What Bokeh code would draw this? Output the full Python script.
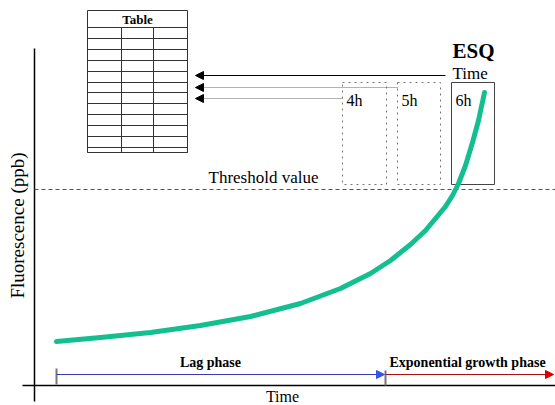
from bokeh.plotting import figure
from bokeh.models import Range1d, Arrow, NormalHead
from bokeh.core.properties import value
from bokeh.embed import file_html
from bokeh.resources import INLINE
import math

# ---- data (diagram units: x = time, y = fluorescence; origin at axes crossing)
curve_time = [22, 66, 116, 166, 216, 266, 306, 336, 356, 376, 391, 401, 411, 418, 424, 431, 438, 444, 450]
curve_fluor = [44, 48, 53, 60, 69, 82, 97, 112, 125, 141, 155, 167, 179, 190, 202, 220, 243, 265, 293]
threshold = 196

x_axis_extent = [-12, 521]
y_axis_extent = [-16, 337]

esq_labels = ["4h", "5h", "6h"]
box_left = [308, 363, 417]
box_right = [352, 406, 460]
box_top = 303
box_bottom = 201
box_dash = ["dotted", "dotted", "solid"]

arrow_y = [310, 298, 287]
arrow_from = [411, 363, 308]
arrow_to = 161

table_left, table_right = 53, 153
table_cols = [87, 119]
table_top = 375
table_lines = [358, 347, 336, 325, 314, 303, 293, 282, 271, 260, 249, 238, 233]

phase_start, phase_boundary, phase_end = 22, 351, 519
phase_y = 11

FONT = value("Liberation Serif")

p = figure(width=555, height=405, output_backend="svg", toolbar_location=None,
           x_range=Range1d(-34, 521), y_range=Range1d(-20, 385),
           min_border=0, x_axis_type=None, y_axis_type=None)
p.grid.visible = False
p.outline_line_color = None
p.background_fill_color = "white"

# axes lines
p.line(x_axis_extent, [0, 0], line_color="black", line_width=1.5)
p.line([0, 0], y_axis_extent, line_color="black", line_width=1.5)

# threshold
p.line([0, 521], [threshold, threshold], line_color="#555555", line_width=1, line_dash="4 3")
p.text([174], [threshold + 12], text=["Threshold value"], text_font=FONT,
       text_font_size="17px", text_align="left", text_baseline="middle", text_color="black")

# table
p.quad(left=[table_left], right=[table_right], top=[table_top], bottom=[table_lines[-1]],
       fill_color=None, line_color="#333333", line_width=1)
p.segment(x0=[table_left] * len(table_lines), x1=[table_right] * len(table_lines),
          y0=table_lines, y1=table_lines, line_color="#333333", line_width=1)
p.segment(x0=table_cols, x1=table_cols, y0=[table_lines[0]] * 2, y1=[table_lines[-1]] * 2,
          line_color="#333333", line_width=1)
p.text([(table_left + table_right) / 2], [(table_top + table_lines[0]) / 2], text=["Table"],
       text_font=FONT, text_font_size="13px", text_font_style="bold",
       text_align="center", text_baseline="middle")

# ESQ boxes
for i in range(3):
    p.quad(left=[box_left[i]], right=[box_right[i]], top=[box_top], bottom=[box_bottom],
           fill_color=None, line_color="#444444" if i == 2 else "#777777",
           line_width=1, line_dash=box_dash[i])
p.text([l + 4 for l in box_left], [box_top - 18] * 3, text=esq_labels, text_font=FONT,
       text_font_size="16px", text_align="left", text_baseline="middle")

p.text([box_left[2] + 1], [335], text=["ESQ"], text_font=FONT, text_font_size="21px",
       text_font_style="bold", text_align="left", text_baseline="middle")
p.text([box_left[2] + 1], [312], text=["Time"], text_font=FONT, text_font_size="17px",
       text_align="left", text_baseline="middle")

# arrows to table
p.add_layout(Arrow(x_start=arrow_from[0], y_start=arrow_y[0], x_end=arrow_to, y_end=arrow_y[0],
                   line_color="black", line_width=1.2,
                   end=NormalHead(size=8, fill_color="black", line_color="black")))
for i in (1, 2):
    p.add_layout(Arrow(x_start=arrow_from[i], y_start=arrow_y[i], x_end=arrow_to, y_end=arrow_y[i],
                       line_color="#666666", line_width=1, line_dash="1 1",
                       end=NormalHead(size=8, fill_color="black", line_color="black")))

# curve
p.line(curve_time, curve_fluor, line_color="#14bf8f", line_width=5, line_cap="round",
       line_join="round")

# phases
p.segment(x0=[phase_start, phase_boundary], x1=[phase_start, phase_boundary],
          y0=[1, 0], y1=[17, 15], line_color="#777777", line_width=2)
p.add_layout(Arrow(x_start=phase_start, y_start=phase_y, x_end=phase_boundary - 1, y_end=phase_y,
                   line_color="#3a3ab8", line_width=1,
                   end=NormalHead(size=8, fill_color="#3355ee", line_color="#3355ee")))
p.add_layout(Arrow(x_start=phase_boundary, y_start=phase_y, x_end=phase_end, y_end=phase_y,
                   line_color="#aa1111", line_width=1,
                   end=NormalHead(size=8, fill_color="#dd0000", line_color="#dd0000")))
p.text([176], [23], text=["Lag phase"], text_font=FONT, text_font_size="14px",
       text_font_style="bold", text_align="center", text_baseline="middle")
p.text([355], [23], text=["Exponential growth phase"], text_font=FONT, text_font_size="14px",
       text_font_style="bold", text_align="left", text_baseline="middle")

# axis labels
p.text([248], [-11], text=["Time"], text_font=FONT, text_font_size="16px",
       text_align="center", text_baseline="middle")
p.text([-17], [160], text=["Fluorescence (ppb)"], text_font=FONT, text_font_size="19px",
       text_align="center", text_baseline="middle", angle=math.pi / 2)

open("out.html", "w").write(file_html(p, INLINE))
